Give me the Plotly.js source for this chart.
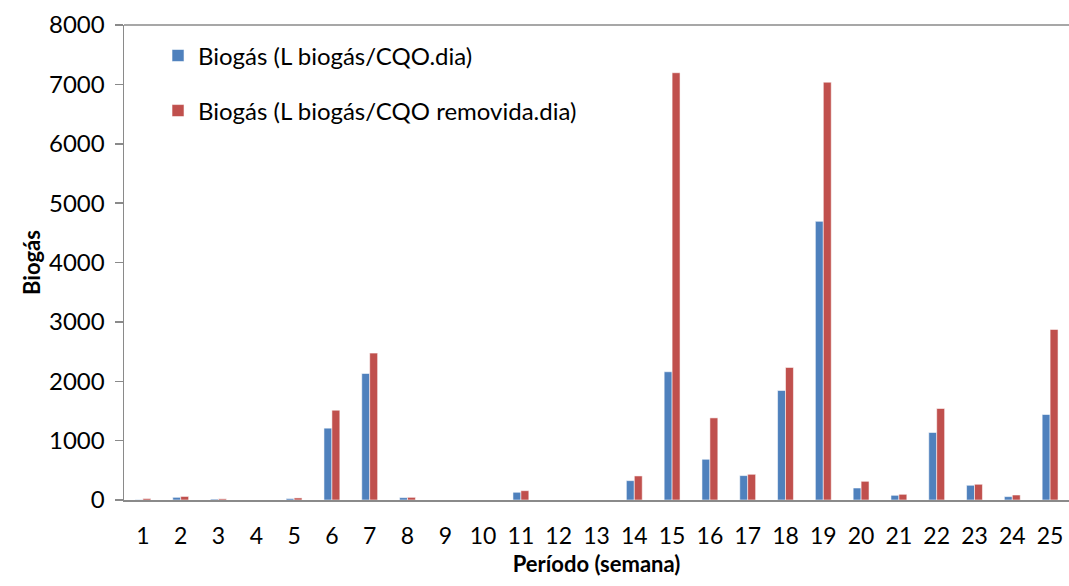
<!DOCTYPE html>
<html>
<head>
<meta charset="utf-8">
<script src="https://cdn.plot.ly/plotly-3.0.1.min.js"></script>
<style>html,body{margin:0;padding:0;background:#fff;}#chart{width:1069px;height:586px;}</style>
</head>
<body>
<div id="chart"></div>
<script>
const semanas = ['1','2','3','4','5','6','7','8','9','10','11','12','13','14','15','16','17','18','19','20','21','22','23','24','25'];
const biogasCQO = [5, 45, 15, 0, 25, 1210, 2130, 40, 0, 0, 130, 0, 0, 326, 2160, 686, 411, 1845, 4693, 202, 79, 1137, 248, 57, 1440];
const biogasCQORemovida = [25, 60, 20, 0, 35, 1513, 2474, 45, 0, 0, 157, 0, 0, 405, 7196, 1383, 433, 2233, 7037, 315, 96, 1541, 265, 84, 2873];
const nomeSerie1 = 'Biogás (L biogás/CQO.dia)';
const nomeSerie2 = 'Biogás (L biogás/CQO removida.dia)';

const FONT = 'Lato, "Open Sans", sans-serif';
const axisColor = '#8a8a8a';

const traces = [
  {
    type: 'bar', x: semanas, y: biogasCQO, name: nomeSerie1,
    marker: {color: '#4F81BD', line: {color: 'rgba(255,255,255,0.55)', width: 1}},
    legend: 'legend'
  },
  {
    type: 'bar', x: semanas, y: biogasCQORemovida, name: nomeSerie2,
    marker: {color: '#C0504D', line: {color: 'rgba(255,255,255,0.55)', width: 1}},
    legend: 'legend2'
  }
];

const layout = {
  width: 1069, height: 586,
  margin: {l: 124, r: 0, t: 25, b: 86},
  paper_bgcolor: '#ffffff', plot_bgcolor: '#ffffff',
  font: {family: FONT, size: 24, color: '#000000'},
  barmode: 'group', bargap: 0.58, bargroupgap: 0,
  showlegend: true,
  legend: {x: 0.036, y: 0.935, xanchor: 'left', yanchor: 'middle', bgcolor: 'rgba(0,0,0,0)', font: {family: FONT, size: 24}},
  legend2: {x: 0.036, y: 0.819, xanchor: 'left', yanchor: 'middle', bgcolor: 'rgba(0,0,0,0)', font: {family: FONT, size: 24}},
  shapes: [
    {type: 'line', xref: 'paper', yref: 'paper', x0: 0, x1: 1, y0: 1, y1: 1, line: {color: axisColor, width: 1.5}}
  ],
  xaxis: {
    type: 'category',
    showline: true, linecolor: axisColor, linewidth: 2,
    ticks: '', showgrid: false, zeroline: false,
    tickfont: {family: FONT, size: 23},
    ticklabelstandoff: 14,
    title: {text: 'Período (semana)', font: {family: FONT, size: 22, weight: 'bold'}, standoff: 9}
  },
  yaxis: {
    range: [0, 8000], dtick: 1000, tick0: 0,
    showline: true, linecolor: axisColor, linewidth: 1.5,
    ticks: 'outside', ticklen: 8, tickcolor: axisColor, tickwidth: 1.5,
    showgrid: false, zeroline: false,
    tickfont: {family: FONT, size: 24},
    ticklabelstandoff: 5,
    title: {text: 'Biogás', font: {family: FONT, size: 22, weight: 'bold'}, standoff: 2}
  }
};

Plotly.newPlot('chart', traces, layout, {displayModeBar: false, staticPlot: true});
</script>
</body>
</html>
